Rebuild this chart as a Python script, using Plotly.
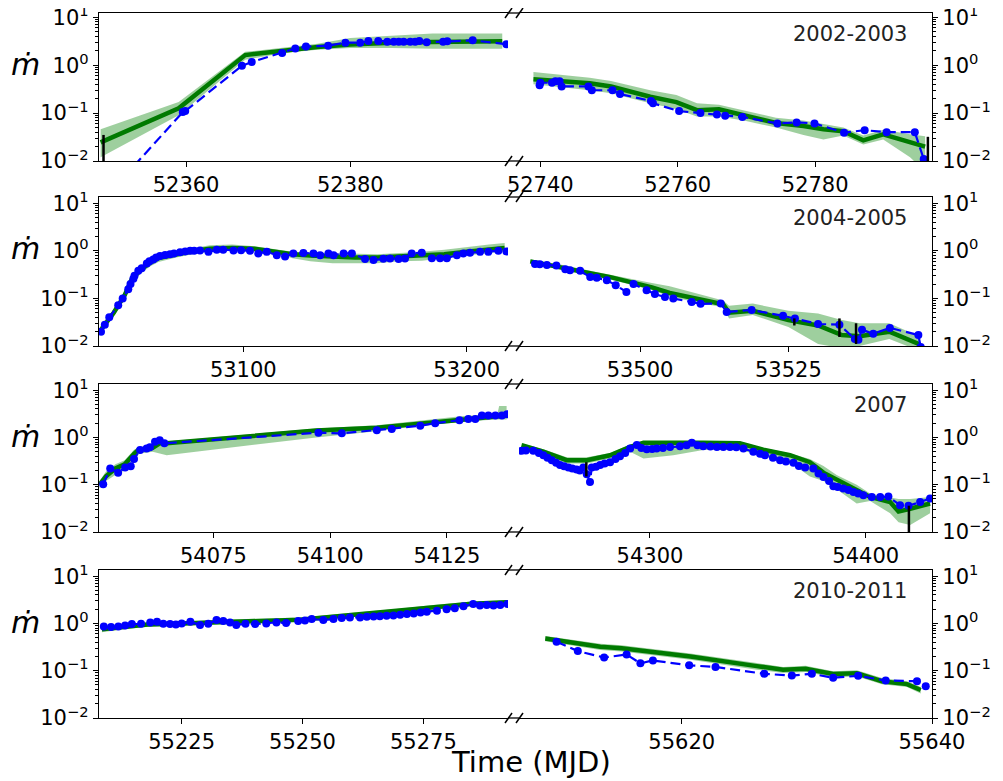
import plotly.graph_objects as go

# ---------------- data ----------------
# Row 1 (2002-2003), left segment
r1L_obs_t = [52350.0, 52359.6, 52359.9, 52366.8, 52368.0, 52371.7, 52373.3, 52374.6, 52377.3, 52379.4,
             52381.2, 52382.2, 52383.4, 52384.5, 52385.3, 52385.9, 52386.5, 52387.3, 52387.9, 52388.4,
             52389.3, 52391.3, 52391.8, 52394.9, 52399.0]
r1L_obs_m = [0.0016, 0.105, 0.11, 0.97, 1.17, 1.8, 2.24, 2.45, 2.55, 2.95,
             2.95, 3.2, 3.2, 3.1, 3.1, 3.1, 3.1, 3.1, 3.1, 3.2,
             3.0, 3.1, 3.15, 3.3, 2.75]
r1L_mod_t = [52349.6, 52359.1, 52367.2, 52371.9, 52376.0, 52380.0, 52385.0, 52390.0, 52394.0, 52398.5]
r1L_mod_m = [0.0245, 0.126, 1.63, 2.05, 2.4, 2.7, 2.95, 3.05, 3.1, 3.15]
r1L_lo = [0.012, 0.09, 1.3, 1.8, 2.1, 2.3, 2.3, 2.2, 2.2, 2.2]
r1L_hi = [0.046, 0.17, 1.9, 2.3, 2.8, 3.7, 4.2, 4.6, 4.6, 4.6]
r1L_err_t, r1L_err_lo, r1L_err_hi = [52349.95], [0.003], [0.035]

# Row 1, right segment
r1R_obs_t = [52739.9, 52740.0, 52741.7, 52742.2, 52742.8, 52743.1, 52747.0, 52747.5, 52750.5, 52751.6,
             52756.1, 52756.4, 52760.2, 52763.3, 52765.7, 52766.9, 52769.4, 52774.5, 52777.3, 52779.9,
             52784.2, 52787.2, 52790.4, 52794.5, 52795.8]
r1R_obs_m = [0.38, 0.43, 0.43, 0.46, 0.46, 0.36, 0.36, 0.30, 0.30, 0.25,
             0.18, 0.16, 0.11, 0.10, 0.093, 0.088, 0.083, 0.061, 0.064, 0.061,
             0.039, 0.044, 0.040, 0.040, 0.011]
r1R_mod_t = [52739.0, 52742.0, 52747.2, 52750.3, 52756.0, 52759.8, 52762.8, 52766.0, 52769.6, 52774.3,
             52778.3, 52781.2, 52784.1, 52787.0, 52789.9, 52793.8, 52796.0]
r1R_mod_m = [0.51, 0.48, 0.42, 0.36, 0.22, 0.17, 0.115, 0.12, 0.091, 0.062,
             0.054, 0.046, 0.042, 0.027, 0.036, 0.025, 0.02]
r1R_lo = [0.4, 0.36, 0.3, 0.26, 0.16, 0.12, 0.085, 0.085, 0.07, 0.05,
          0.035, 0.028, 0.034, 0.022, 0.028, 0.012, 0.006]
r1R_hi = [0.72, 0.65, 0.55, 0.47, 0.3, 0.24, 0.16, 0.15, 0.115, 0.08,
          0.07, 0.06, 0.05, 0.034, 0.045, 0.036, 0.033]
r1R_err_t, r1R_err_lo, r1R_err_hi = [52796.4], [0.004], [0.032]

# Row 2 (2004-2005), left segment
r2L_obs_t = [53036.3, 53038.0, 53040.0, 53044.0, 53046.0, 53048.5, 53049.5, 53050.8, 53051.3, 53053.0,
             53054.5, 53056.8, 53058.0, 53059.7, 53061.0, 53062.7, 53065.0, 53067.2, 53069.0, 53071.7,
             53074.0, 53076.2, 53078.0, 53080.6, 53084.4, 53088.1, 53091.0, 53095.6, 53099.0, 53103.0,
             53106.7, 53110.5, 53115.0, 53118.7, 53122.4, 53126.9, 53131.4, 53134.4, 53138.1, 53140.4,
             53144.9, 53148.6, 53154.5, 53158.3, 53162.7, 53165.7, 53169.5, 53172.4, 53175.4, 53179.9,
             53184.4, 53188.1, 53191.1, 53195.6, 53198.5, 53201.5, 53206.0, 53209.7, 53214.2, 53217.8]
r2L_obs_m = [0.02, 0.028, 0.04, 0.072, 0.1, 0.155, 0.2, 0.26, 0.30, 0.38,
             0.43, 0.54, 0.6, 0.66, 0.72, 0.78, 0.82, 0.85, 0.88, 0.93,
             0.97, 1.0, 1.0, 1.02, 0.95, 1.05, 1.05, 1.02, 1.03, 1.0,
             0.88, 0.95, 0.81, 0.76, 0.88, 0.9, 0.88, 0.81, 0.88, 0.81,
             0.88, 0.88, 0.67, 0.64, 0.68, 0.69, 0.67, 0.69, 0.88, 0.91,
             0.70, 0.70, 0.70, 0.81, 0.88, 0.91, 0.95, 0.95, 1.0, 0.97]
r2L_mod_t = [53036.0, 53042.0, 53047.0, 53050.0, 53054.0, 53058.0, 53062.0, 53070.0, 53078.0, 53085.0,
             53095.0, 53105.0, 53115.0, 53122.0, 53130.0, 53140.0, 53150.0, 53160.0, 53170.0, 53180.0,
             53190.0, 53200.0, 53210.0, 53217.0]
r2L_mod_m = [0.021, 0.05, 0.12, 0.25, 0.4, 0.55, 0.7, 0.85, 1.0, 1.1,
             1.15, 1.1, 0.95, 0.85, 0.8, 0.75, 0.72, 0.72, 0.75, 0.78,
             0.85, 0.95, 1.05, 1.15]
r2L_lo = [0.018, 0.042, 0.1, 0.2, 0.33, 0.46, 0.58, 0.72, 0.86, 0.95,
          1.0, 0.95, 0.85, 0.7, 0.6, 0.55, 0.55, 0.55, 0.6, 0.62,
          0.7, 0.8, 0.9, 0.95]
r2L_hi = [0.026, 0.06, 0.14, 0.32, 0.48, 0.65, 0.82, 0.98, 1.15, 1.3,
          1.35, 1.25, 1.05, 0.95, 0.92, 0.9, 0.85, 0.85, 0.9, 0.95,
          1.05, 1.2, 1.35, 1.45]

# Row 2, right segment
r2R_obs_t = [53482.3, 53483.1, 53484.3, 53485.9, 53487.4, 53488.2, 53489.9, 53491.6, 53492.7, 53494.4,
             53495.9, 53497.7, 53498.9, 53501.1, 53502.5, 53504.2, 53505.6, 53508.7, 53510.2, 53513.6,
             53514.6, 53518.8, 53524.1, 53526.1, 53530.0, 53533.6, 53536.2, 53536.8, 53537.4, 53539.3,
             53542.1, 53546.9, 53547.3]
r2R_obs_m = [0.53, 0.52, 0.5, 0.49, 0.41, 0.39, 0.38, 0.28, 0.27, 0.24,
             0.19, 0.137, 0.2, 0.148, 0.123, 0.107, 0.1, 0.084, 0.077, 0.078,
             0.052, 0.057, 0.043, 0.038, 0.029, 0.028, 0.014, 0.0135, 0.022, 0.018,
             0.024, 0.017, 0.0095]
r2R_mod_t = [53481.5, 53487.0, 53492.0, 53495.0, 53498.0, 53502.0, 53505.0, 53510.0, 53514.0, 53515.0,
             53519.0, 53525.0, 53530.0, 53534.0, 53537.0, 53542.0, 53547.0]
r2R_mod_m = [0.6, 0.45, 0.33, 0.28, 0.23, 0.17, 0.13, 0.095, 0.075, 0.05,
             0.055, 0.035, 0.027, 0.017, 0.016, 0.02, 0.011]
r2R_lo = [0.55, 0.41, 0.3, 0.25, 0.2, 0.15, 0.11, 0.08, 0.065, 0.038,
          0.045, 0.025, 0.011, 0.009, 0.01, 0.014, 0.008]
r2R_hi = [0.66, 0.5, 0.37, 0.31, 0.26, 0.21, 0.18, 0.12, 0.09, 0.07,
          0.078, 0.055, 0.048, 0.035, 0.03, 0.03, 0.016]
r2R_err_t, r2R_err_lo, r2R_err_hi = [53526.0, 53533.6, 53536.4], [0.027, 0.0155, 0.011], [0.038, 0.038, 0.03]

# Row 3 (2007), left segment
r3L_obs_t = [54051.4, 54052.9, 54054.6, 54056.1, 54057.3, 54058.0, 54059.3, 54060.7, 54061.4, 54062.5,
             54063.5, 54064.5, 54097.5, 54102.5, 54110.0, 54113.2, 54119.3, 54122.5, 54127.7, 54129.6,
             54131.1, 54132.5, 54133.9, 54135.4, 54136.8, 54137.9]
r3L_obs_m = [0.102, 0.22, 0.18, 0.23, 0.245, 0.35, 0.54, 0.58, 0.62, 0.81,
             0.87, 0.75, 1.26, 1.22, 1.42, 1.5, 1.76, 2.0, 2.3, 2.45,
             2.45, 2.9, 2.9, 2.9, 2.9, 3.1]
r3L_mod_t = [54050.6, 54052.0, 54054.0, 54056.0, 54058.0, 54059.0, 54062.0, 54063.5, 54065.0, 54097.0,
             54110.0, 54120.0, 54128.0, 54133.0, 54135.8, 54136.2, 54137.8]
r3L_mod_m = [0.1, 0.15, 0.22, 0.27, 0.45, 0.55, 0.6, 0.75, 0.75, 1.4,
             1.6, 2.0, 2.4, 2.6, 2.8, 2.9, 2.9]
r3L_lo = [0.085, 0.12, 0.16, 0.2, 0.3, 0.45, 0.5, 0.45, 0.42, 1.0,
          1.35, 1.8, 2.1, 2.3, 2.4, 2.4, 2.4]
r3L_hi = [0.12, 0.19, 0.27, 0.33, 0.55, 0.62, 0.68, 0.85, 0.82, 1.55,
          1.8, 2.3, 2.8, 3.0, 3.0, 4.6, 4.6]

# Row 3, right segment
r3R_obs_t = [54240.5, 54242.5, 54245.9, 54248.5, 54250.6, 54252.5, 54254.5, 54256.5, 54258.3, 54260.2,
             54262.2, 54264.0, 54266.0, 54267.5, 54269.1, 54270.7, 54272.2, 54273.0, 54275.0, 54276.9,
             54279.0, 54281.5, 54284.0, 54286.1, 54288.5, 54290.8, 54293.9, 54296.0, 54298.5, 54301.0,
             54303.1, 54306.0, 54309.3, 54313.9, 54317.0, 54319.4, 54322.0, 54324.7, 54328.0, 54331.0,
             54334.0, 54337.1, 54340.0, 54343.3, 54347.9, 54351.0, 54353.3, 54357.0, 54360.3, 54363.0,
             54366.5, 54369.0, 54371.9, 54375.7, 54378.1, 54380.4, 54383.0, 54385.0, 54387.0, 54389.6,
             54392.0, 54394.3, 54396.5, 54398.9, 54402.8, 54406.7, 54410.5, 54415.9, 54419.8, 54425.2,
             54429.8]
r3R_obs_m = [0.52, 0.53, 0.52, 0.47, 0.42, 0.37, 0.33, 0.29, 0.26, 0.245,
             0.23, 0.22, 0.21, 0.2, 0.23, 0.167, 0.114, 0.23, 0.24, 0.26,
             0.28, 0.3, 0.35, 0.4, 0.47, 0.58, 0.69, 0.6, 0.56, 0.57,
             0.58, 0.6, 0.63, 0.65, 0.68, 0.77, 0.68, 0.65, 0.64, 0.63,
             0.63, 0.63, 0.62, 0.58, 0.5, 0.45, 0.42, 0.37, 0.33, 0.31,
             0.29, 0.25, 0.23, 0.22, 0.173, 0.146, 0.12, 0.093, 0.09, 0.083,
             0.077, 0.07, 0.065, 0.06, 0.055, 0.055, 0.056, 0.037, 0.036, 0.043,
             0.051]
r3R_mod_t = [54240.5, 54250.6, 54261.4, 54270.7, 54281.5, 54290.8, 54297.0, 54310.8, 54324.7, 54341.6,
             54352.5, 54364.9, 54374.1, 54380.4, 54386.5, 54395.8, 54402.0, 54411.3, 54415.2, 54420.6,
             54429.8]
r3R_mod_m = [0.69, 0.5, 0.33, 0.33, 0.42, 0.63, 0.77, 0.75, 0.77, 0.75,
             0.55, 0.42, 0.3, 0.18, 0.13, 0.078, 0.055, 0.043, 0.027, 0.031,
             0.04]
r3R_lo = [0.6, 0.44, 0.28, 0.28, 0.36, 0.5, 0.36, 0.42, 0.54, 0.55,
          0.4, 0.3, 0.15, 0.12, 0.08, 0.04, 0.045, 0.025, 0.016, 0.014,
          0.025]
r3R_hi = [0.75, 0.56, 0.38, 0.38, 0.47, 0.7, 0.82, 0.82, 0.85, 0.82,
          0.6, 0.46, 0.35, 0.25, 0.16, 0.1, 0.065, 0.055, 0.05, 0.05,
          0.055]
r3R_err_t, r3R_err_lo, r3R_err_hi = [54270.5, 54420.0], [0.15, 0.004], [0.3, 0.036]

# Row 4 (2010-2011), left segment
r4L_obs_t = [55208.9, 55210.4, 55211.9, 55213.3, 55214.7, 55216.6, 55218.5, 55219.9, 55221.2, 55222.6,
             55223.8, 55225.0, 55226.8, 55228.8, 55230.5, 55232.2, 55233.6, 55235.0, 55236.3, 55238.2,
             55240.2, 55242.5, 55244.6, 55246.6, 55249.1, 55250.5, 55251.9, 55254.3, 55256.4, 55258.1,
             55259.8, 55261.9, 55263.3, 55264.7, 55266.0, 55267.4, 55268.8, 55270.2, 55271.6, 55273.0,
             55274.4, 55275.7, 55277.8, 55279.8, 55281.5, 55283.3, 55285.3, 55286.7, 55288.1, 55289.5,
             55290.9, 55292.4]
r4L_obs_m = [0.86, 0.84, 0.86, 0.9, 0.97, 0.98, 1.05, 1.08, 0.98, 0.97,
             0.95, 1.0, 1.08, 0.93, 0.98, 1.18, 1.12, 1.05, 0.93, 0.98,
             0.97, 1.0, 1.05, 1.02, 1.12, 1.15, 1.24, 1.18, 1.24, 1.3,
             1.34, 1.34, 1.38, 1.4, 1.42, 1.45, 1.48, 1.52, 1.58, 1.63,
             1.7, 1.77, 1.85, 2.0, 2.1, 2.3, 2.57, 2.4, 2.45, 2.4,
             2.45, 2.57]
r4L_mod_t = [55208.5, 55213.0, 55218.0, 55225.0, 55236.0, 55249.5, 55260.0, 55270.0, 55277.0, 55285.0,
             55292.3]
r4L_mod_m = [0.75, 0.85, 0.95, 1.0, 1.1, 1.2, 1.5, 1.85, 2.2, 2.6, 2.8]
r4L_lo = [0.65, 0.75, 0.85, 0.9, 0.98, 1.08, 1.35, 1.65, 1.95, 2.3, 2.45]
r4L_hi = [0.85, 0.95, 1.05, 1.1, 1.22, 1.33, 1.65, 2.05, 2.45, 2.9, 3.1]

# Row 4, right segment
r4R_obs_t = [55610.0, 55611.7, 55613.8, 55615.6, 55616.7, 55617.7, 55620.6, 55622.7, 55626.6, 55628.8,
             55630.4, 55632.1, 55634.1, 55636.3, 55638.8, 55639.5]
r4R_obs_m = [0.41, 0.26, 0.19, 0.22, 0.143, 0.165, 0.13, 0.12, 0.086, 0.079,
             0.086, 0.071, 0.078, 0.062, 0.06, 0.047]
r4R_mod_t = [55609.1, 55613.5, 55615.2, 55620.7, 55626.0, 55628.1, 55629.9, 55632.1, 55634.0, 55636.0,
             55638.0, 55639.1]
r4R_mod_m = [0.48, 0.32, 0.3, 0.2, 0.125, 0.105, 0.11, 0.085, 0.088, 0.06, 0.052, 0.039]
r4R_lo = [0.42, 0.275, 0.255, 0.17, 0.105, 0.09, 0.094, 0.073, 0.075, 0.052, 0.045, 0.033]
r4R_hi = [0.54, 0.37, 0.345, 0.23, 0.145, 0.12, 0.128, 0.098, 0.102, 0.07, 0.06, 0.045]

row_labels = ["2002-2003", "2004-2005", "2007", "2010-2011"]
x_ranges = [([52349.4, 52399.2], [52736.9, 52797.0]),
            ([53035.4, 53218.5], [53479.6, 53549.2]),
            ([54050.5, 54138.1], [54239.3, 54430.7]),
            ([55207.9, 55292.5], [55607.0, 55640.0])]
x_ticks = [([52360, 52380], [52740, 52760, 52780]),
           ([53100, 53200], [53500, 53525]),
           ([54075, 54100, 54125], [54300, 54400]),
           ([55225, 55250, 55275], [55620, 55640])]
y_tops = [1.09, 1.13, 1.13, 1.13]
y_tickvals = [0.01, 0.1, 1, 10]
y_ticktext = ["10<sup>−2</sup>", "10<sup>−1</sup>", "10<sup>0</sup>", "10<sup>1</sup>"]

panels = [
    (r1L_obs_t, r1L_obs_m, r1L_mod_t, r1L_mod_m, r1L_lo, r1L_hi, (r1L_err_t, r1L_err_lo, r1L_err_hi)),
    (r1R_obs_t, r1R_obs_m, r1R_mod_t, r1R_mod_m, r1R_lo, r1R_hi, (r1R_err_t, r1R_err_lo, r1R_err_hi)),
    (r2L_obs_t, r2L_obs_m, r2L_mod_t, r2L_mod_m, r2L_lo, r2L_hi, None),
    (r2R_obs_t, r2R_obs_m, r2R_mod_t, r2R_mod_m, r2R_lo, r2R_hi, (r2R_err_t, r2R_err_lo, r2R_err_hi)),
    (r3L_obs_t, r3L_obs_m, r3L_mod_t, r3L_mod_m, r3L_lo, r3L_hi, None),
    (r3R_obs_t, r3R_obs_m, r3R_mod_t, r3R_mod_m, r3R_lo, r3R_hi, (r3R_err_t, r3R_err_lo, r3R_err_hi)),
    (r4L_obs_t, r4L_obs_m, r4L_mod_t, r4L_mod_m, r4L_lo, r4L_hi, None),
    (r4R_obs_t, r4R_obs_m, r4R_mod_t, r4R_mod_m, r4R_lo, r4R_hi, None),
]

# ---------------- layout geometry (page pixels) ----------------
OFF = 8                      # default body margin of the html page
W, H = 1003 - OFF, 781 - OFF  # figure size
ROWS_PX = [(13, 161), (197, 346), (384, 532), (570, 718)]
COLS_PX = [(99, 508), (519, 932)]
FONT = "DejaVu Sans"


def fx(p):
    return (p - OFF) / W


def fy(p):
    return 1 - (p - OFF) / H


minor_vals = [m * 10 ** e for e in (-2, -1, 0) for m in range(2, 10)]

fig = go.Figure()
layout = dict(width=W, height=H, margin=dict(l=0, r=0, t=0, b=0, pad=0, autoexpand=False),
              paper_bgcolor="white", plot_bgcolor="white", showlegend=False,
              font=dict(family=FONT, color="black"))
shapes = []
annotations = []

for idx, (ot, om, mt, mm, lo, hi, err) in enumerate(panels):
    r, c = divmod(idx, 2)
    k = idx + 1
    xa = "x" if k == 1 else f"x{k}"
    ya = "y" if k == 1 else f"y{k}"
    xkey = "xaxis" if k == 1 else f"xaxis{k}"
    ykey = "yaxis" if k == 1 else f"yaxis{k}"

    fig.add_trace(go.Scatter(x=list(mt) + list(mt)[::-1], y=list(hi) + list(lo)[::-1],
                             mode="lines", fill="toself", fillcolor="rgba(0,128,0,0.38)",
                             line=dict(width=0), hoverinfo="skip", xaxis=xa, yaxis=ya))
    fig.add_trace(go.Scatter(x=mt, y=mm, mode="lines", line=dict(color="#007a00", width=4.5),
                             xaxis=xa, yaxis=ya))
    fig.add_trace(go.Scatter(x=ot, y=om, mode="lines+markers",
                             line=dict(color="#0000ff", width=2.2, dash="10px,5px"),
                             marker=dict(color="#0000ff", size=8), xaxis=xa, yaxis=ya))
    if err is not None:
        et, elo, ehi = err
        ex, ey = [], []
        for t, a, b in zip(et, elo, ehi):
            ex += [t, t, None]
            ey += [a, b, None]
        fig.add_trace(go.Scatter(x=ex, y=ey, mode="lines", line=dict(color="black", width=2.5),
                                 xaxis=xa, yaxis=ya))

    x0, x1 = COLS_PX[c]
    t0, b0 = ROWS_PX[r]
    layout[xkey] = dict(domain=[fx(x0), fx(x1)], range=x_ranges[r][c], anchor=ya,
                        automargin=False, ticklabeloverflow="allow",
                        tickmode="array", tickvals=x_ticks[r][c],
                        ticktext=[str(v) for v in x_ticks[r][c]],
                        ticks="outside", ticklen=5, tickwidth=1.3, tickcolor="black",
                        showline=True, linecolor="black", linewidth=1.3, mirror=True,
                        showgrid=False, zeroline=False,
                        tickfont=dict(family=FONT, size=21, color="black"))
    layout[ykey] = dict(domain=[fy(b0), fy(t0)], type="log", range=[-2, y_tops[r]], anchor=xa,
                        automargin=False, ticklabeloverflow="allow",
                        side="left" if c == 0 else "right",
                        tickmode="array", tickvals=y_tickvals, ticktext=y_ticktext,
                        ticks="outside", ticklen=5, tickwidth=1.3, tickcolor="black",
                        minor=dict(tickmode="array", tickvals=minor_vals, ticks="outside",
                                   ticklen=3, tickwidth=1, tickcolor="black", showgrid=False),
                        showline=True, linecolor="black", linewidth=1.3, mirror=False,
                        showgrid=False, zeroline=False,
                        tickfont=dict(family=FONT, size=21, color="black"))

    if c == 0:
        for yy in (t0, b0):
            shapes.append(dict(type="line", xref="paper", yref="paper",
                               x0=fx(508), x1=fx(519), y0=fy(yy), y1=fy(yy),
                               line=dict(color="black", width=1.3)))
            for xm in (508.5, 519.5):
                shapes.append(dict(type="line", xref="paper", yref="paper",
                                   x0=fx(xm - 3.5), x1=fx(xm + 3.5), y0=fy(yy + 5), y1=fy(yy - 5),
                                   line=dict(color="black", width=1.5)))
        annotations.append(dict(text="<i>ṁ</i>", xref="paper", yref="paper",
                                x=fx(25), y=fy(t0 + 52), xanchor="center", yanchor="middle",
                                showarrow=False, font=dict(family=FONT, size=30, color="black")))
    else:
        annotations.append(dict(text=row_labels[r], xref="paper", yref="paper",
                                x=fx(909), y=fy(t0 + 21), xanchor="right", yanchor="middle",
                                showarrow=False, font=dict(family=FONT, size=21, color="#222222")))

annotations.append(dict(text="Time (MJD)", xref="paper", yref="paper",
                        x=fx(531), y=fy(762), xanchor="center", yanchor="middle",
                        showarrow=False, font=dict(family=FONT, size=29, color="black")))

layout["shapes"] = shapes
layout["annotations"] = annotations
fig.update_layout(**layout)
fig.write_html("out.html")
